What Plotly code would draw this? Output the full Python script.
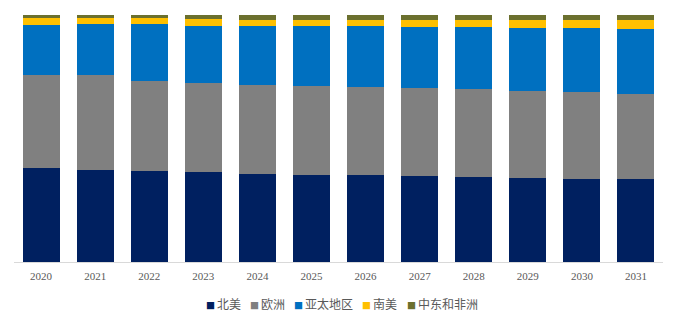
import plotly.graph_objects as go

years = ["2020", "2021", "2022", "2023", "2024", "2025",
         "2026", "2027", "2028", "2029", "2030", "2031"]

north_america = [37.9, 37.2, 36.7, 36.6, 35.6, 35.3, 35.3, 34.8, 34.4, 33.9, 33.6, 33.6]
europe = [37.8, 38.5, 36.6, 35.8, 36.0, 35.9, 35.5, 35.6, 35.5, 35.5, 35.1, 34.5]
asia_pacific = [20.4, 20.5, 23.0, 23.3, 24.0, 24.2, 24.6, 24.8, 25.3, 25.5, 26.0, 26.3]
south_america = [2.6, 2.5, 2.5, 2.7, 2.4, 2.7, 2.7, 2.7, 2.7, 3.1, 3.2, 3.5]
mideast_africa = [1.3, 1.2, 1.2, 1.6, 1.9, 1.9, 1.9, 2.0, 2.0, 2.0, 2.0, 2.0]

region_names = ["北美", "欧洲", "亚太地区", "南美", "中东和非洲"]
region_colors = ["#002060", "#808080", "#0070C0", "#FFC000", "#6B702E"]
region_values = [north_america, europe, asia_pacific, south_america, mideast_africa]

# plot area in pixels (used to place the compact legend row)
W, H = 681, 322
ML, MR, MT, MB = 14, 18, 15, 60
plot_w = W - ML - MR
plot_h = H - MT - MB

fig = go.Figure()
for name, vals, color in zip(region_names, region_values, region_colors):
    fig.add_trace(go.Bar(
        x=years, y=vals, name=name,
        marker=dict(color=color, line=dict(width=0)),
        showlegend=False,
    ))

# compact legend: small coloured square followed by the label
legend_left_px = [204, 248, 292, 360, 405]
legend_y = (MT + plot_h - 303) / plot_h
for name, color, px in zip(region_names, region_colors, legend_left_px):
    fig.add_annotation(
        xref="paper", yref="paper",
        x=(px - ML) / plot_w, y=legend_y,
        xanchor="left", yanchor="middle",
        text=f"<span style='font-size:9px;color:{color}'>■ </span>{name}",
        showarrow=False,
        font=dict(family="Noto Sans CJK SC", size=12, color="#595959"),
    )

fig.update_layout(
    barmode="stack",
    barnorm="percent",
    bargap=0.316,
    width=W, height=H,
    margin=dict(l=ML, r=MR, t=MT, b=MB),
    paper_bgcolor="white",
    plot_bgcolor="white",
    xaxis=dict(
        showline=True, linecolor="#D9D9D9", linewidth=1,
        ticks="outside", ticklen=4, tickcolor="rgba(0,0,0,0)",
        showgrid=False,
        tickfont=dict(family="Liberation Serif", size=11, color="#595959"),
    ),
    yaxis=dict(
        range=[0, 100], visible=False, showgrid=False,
    ),
)

fig.write_html("out.html")
